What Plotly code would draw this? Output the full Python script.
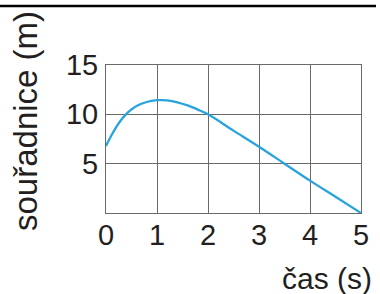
import plotly.graph_objects as go

# data
cas = [0, 0.1, 0.2, 0.3, 0.4, 0.5, 0.6, 0.8, 1.0, 1.1, 1.2, 1.4, 1.6, 1.8, 2.0, 2.5, 3.0, 3.5, 4.0, 4.5, 5.0]
souradnice = [6.8, 7.8, 8.7, 9.45, 10.05, 10.5, 10.85, 11.25, 11.43, 11.45, 11.42, 11.22, 10.9, 10.48, 10.0, 8.35, 6.72, 5.0, 3.28, 1.64, 0.0]
x_ticks = [0, 1, 2, 3, 4, 5]
y_ticks = [5, 10, 15]
x_title = "čas (s)"
y_title = "souřadnice (m)"

TXT = "#231f20"
GRID = "#6a6a6a"
FONT = "Liberation Sans, Arial, sans-serif"
TICK_SIZE = 29

fig = go.Figure()
fig.add_trace(go.Scatter(
    x=cas, y=souradnice, mode="lines",
    line=dict(color="#29a3dd", width=2.3, shape="spline", smoothing=1.0),
    hoverinfo="skip", showlegend=False,
))

W, H = 380, 294
L, R, T, B = 106, 19, 65, 81

fig.update_layout(
    width=W, height=H,
    margin=dict(l=L, r=R, t=T, b=B, pad=0),
    paper_bgcolor="white", plot_bgcolor="white",
    font=dict(family=FONT, color=TXT, size=TICK_SIZE),
    xaxis=dict(
        range=[0, 5], tickvals=x_ticks, ticktext=[str(v) for v in x_ticks],
        showgrid=True, gridcolor=GRID, gridwidth=1,
        showline=True, linecolor=GRID, linewidth=1, mirror=True,
        zeroline=False, ticks="", ticklabelstandoff=-4,
        tickfont=dict(size=TICK_SIZE, color=TXT, family=FONT),
        fixedrange=True,
    ),
    yaxis=dict(
        range=[0, 15], tickvals=y_ticks, ticktext=[str(v) for v in y_ticks],
        showgrid=True, gridcolor=GRID, gridwidth=1,
        showline=True, linecolor=GRID, linewidth=1, mirror=True,
        zeroline=False, ticks="", ticklabelstandoff=1,
        tickfont=dict(size=TICK_SIZE, color=TXT, family=FONT),
        fixedrange=True,
    ),
)

pw = W - L - R
ph = H - T - B

def px(xp):
    return (xp - L) / pw

def py(yp):
    return (H - B - yp) / ph

# top rule
fig.add_shape(type="line", xref="paper", yref="paper",
              x0=px(0), x1=px(376), y0=py(6), y1=py(6),
              line=dict(color="black", width=2.5))

fig.add_annotation(text=x_title, xref="paper", yref="paper",
                   x=px(374), y=py(278), xanchor="right", yanchor="middle",
                   showarrow=False, font=dict(size=30, color=TXT, family=FONT))
fig.add_annotation(text=y_title, xref="paper", yref="paper",
                   x=px(25), y=py(121), xanchor="center", yanchor="middle",
                   textangle=-90, showarrow=False,
                   font=dict(size=33, color=TXT, family=FONT))

fig.write_html("out.html", config={"displayModeBar": False},
               post_script="document.body.style.margin='0px';document.body.style.overflow='hidden';")
